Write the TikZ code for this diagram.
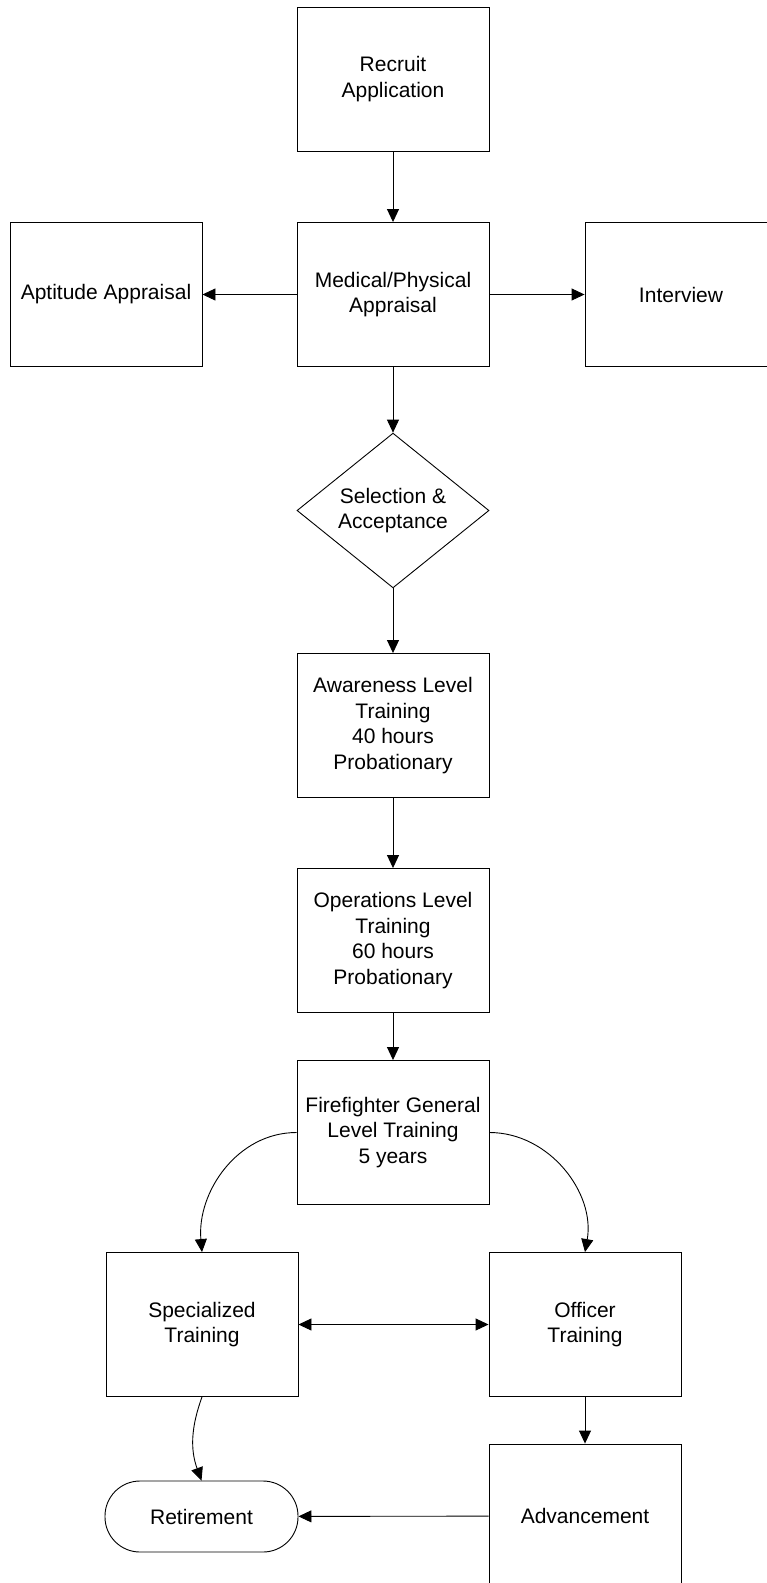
\documentclass[tikz,border=0pt]{standalone}
\usepackage{fontspec}
\setmainfont{Liberation Sans}
\usetikzlibrary{arrows.meta, shapes.geometric}

\tikzset{
    box/.style={draw, line width=0.9pt, minimum width=192pt, minimum height=144pt,
        inner sep=0pt, align=center, font=\fontsize{21}{25.5}\selectfont},
    decision/.style={box, diamond, minimum width=192pt, minimum height=143pt},
    terminal/.style={box, rounded corners=35pt, minimum width=193pt, minimum height=71pt},
    link/.style={line width=0.9pt, ->}
}

\begin{document}
\begin{tikzpicture}[x=1pt, y=1pt, >={Triangle[length=13pt, width=12pt]}]
        \useasboundingbox (0,0) rectangle (767,-1583);

        % Hàng đầu
        \node[box] (recruit) at (393,-79) {Recruit\\Application};
        \node[box] (medical) at (393,-294.5) {Medical/Physical\\Appraisal};
        \node[box] (aptitude) at (106,-294.5) {Aptitude Appraisal};
        \node[box] (interview) at (681,-294.5) {Interview};
        \node[decision] (select) at (393,-510.5) {Selection \&\\Acceptance};

        % Đào tạo
        \node[box] (aware) at (393,-725.5) {Awareness Level\\Training\\40 hours\\Probationary};
        \node[box] (oper) at (393,-940.5) {Operations Level\\Training\\60 hours\\Probationary};
        \node[box] (general) at (393,-1132.5) {Firefighter General\\Level Training\\5 years};
        \node[box] (special) at (202,-1324.5) {Specialized\\Training};
        \node[box] (officer) at (585,-1324.5) {Officer\\Training};

        % Kết thúc
        \node[box] (advance) at (585,-1516) {Advancement};
        \node[terminal] (retire) at (201.5,-1516.5) {Retirement};

        % Mũi tên
        \draw[link] (recruit) -- (medical);
        \draw[link] (medical) -- (aptitude);
        \draw[link] (medical) -- (interview);
        \draw[link] (medical) -- (select);
        \draw[link] (select) -- (aware);
        \draw[link] (aware) -- (oper);
        \draw[link] (oper) -- (general);
        \draw[link] (general.west) to[out=180, in=95] (special.north);
        \draw[link] (general.east) to[out=0, in=80] (officer.north);
        \draw[link, <->] (special) -- (officer);
        \draw[link] (special.south) to[out=250, in=110] (retire.north);
        \draw[link] (officer.south) -- (advance.north);
        \draw[link] (advance) -- (retire);
    \end{tikzpicture}
\end{document}
